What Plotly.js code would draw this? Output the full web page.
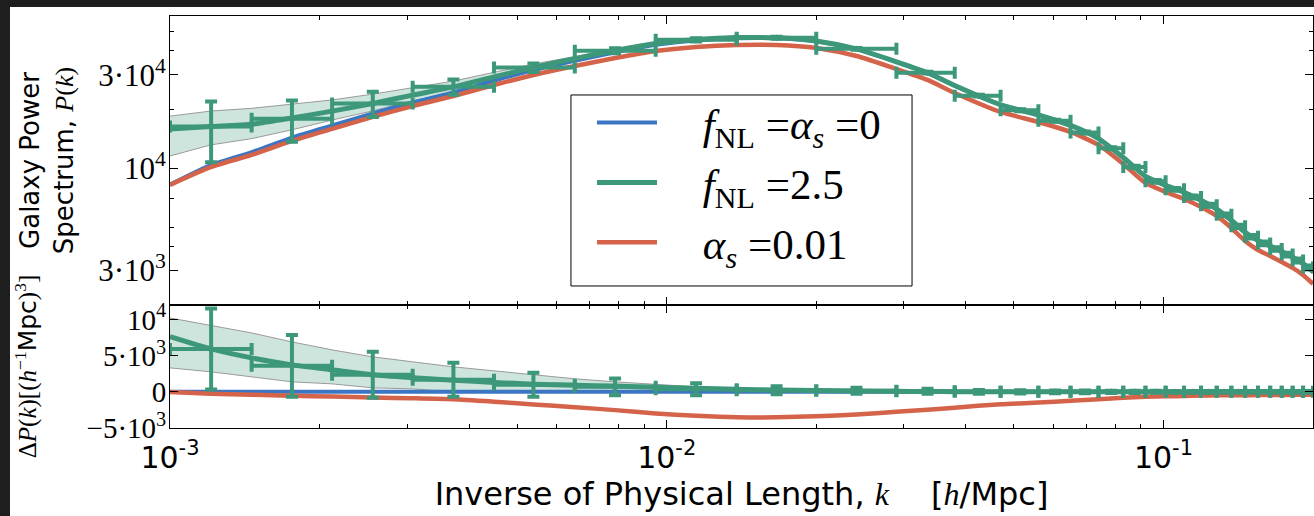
<!DOCTYPE html>
<html><head><meta charset="utf-8">
<script src="https://cdn.plot.ly/plotly-3.0.1.min.js"></script>
<style>
html,body{margin:0;padding:0;background:#1e1e1e;width:1314px;height:516px;overflow:hidden;}
#chart{position:absolute;left:10px;top:7px;width:1304px;height:509px;background:#fff;}
</style></head><body><div id="chart"></div>
<script>
// ---- data ----
const kGrid = [0.001, 0.00121, 0.00146, 0.00176, 0.00212, 0.00256, 0.00308, 0.00372, 0.00449, 0.00539,
  0.00653, 0.00787, 0.0095, 0.01146, 0.01383, 0.01664, 0.0200, 0.0241, 0.0290, 0.0335,
  0.038, 0.047, 0.056, 0.065, 0.074, 0.083, 0.092, 0.101, 0.110, 0.119,
  0.128, 0.137, 0.146, 0.155, 0.164, 0.173, 0.182, 0.191, 0.200];

const pBaseline = [8250, 10410, 12100, 14340, 16540, 19090, 21700, 24440, 28020, 31720,
  35440, 39140, 42740, 44970, 46170, 46190, 44570, 40620, 34940, 30740,
  26450, 21110, 18720, 16560, 14190, 11340, 9100, 8185, 7540, 6860,
  6185, 5420, 4710, 4270, 4000, 3750, 3510, 3260, 2960];

const pFnl = [15880, 16340, 16790, 18070, 19580, 21440, 23650, 26040, 29320, 32770,
  36340, 39930, 43360, 45450, 46520, 46440, 44740, 40730, 35010, 30780,
  26470, 21110, 18720, 16560, 14190, 11340, 9100, 8185, 7540, 6860,
  6185, 5420, 4710, 4270, 4000, 3750, 3510, 3260, 2960];

const pAlpha = [8218, 10153, 11695, 13790, 15880, 18290, 20810, 23410, 26650, 29980,
  33320, 36610, 39750, 41670, 42670, 42670, 41190, 37480, 32170, 28270,
  24260, 19400, 17240, 15330, 13160, 10520, 8410, 7565, 6967, 6341,
  5705, 4953, 4251, 3824, 3563, 3320, 3094, 2849, 2563];

const dBaseline = [0,0,0,0,0,0,0,0,0,0, 0,0,0,0,0,0,0,0,0,0, 0,0,0,0,0,0,0,0,0,0, 0,0,0,0,0,0,0,0,0];

const dFnl = [7630, 5930, 4690, 3730, 3040, 2350, 1950, 1600, 1300, 1050,
  900, 790, 620, 480, 350, 250, 170, 110, 70, 40,
  20, 0, 0, 0, 0, 0, 0, 0, 0, 0,
  0, 0, 0, 0, 0, 0, 0, 0, 0];

const dAlpha = [-30, -260, -410, -550, -660, -800, -890, -1030, -1370, -1740,
  -2120, -2530, -2990, -3300, -3500, -3520, -3380, -3140, -2770, -2470,
  -2190, -1710, -1480, -1230, -1030, -820, -690, -620, -575, -520,
  -480, -470, -460, -450, -440, -430, -420, -410, -400];

// uncertainty band (first 21 grid points)
const kBand = [0.001, 0.00121, 0.00146, 0.00176, 0.00212, 0.00256, 0.00308, 0.00372, 0.00449, 0.00539,
  0.00653, 0.00787, 0.0095, 0.01146, 0.01383, 0.01664, 0.0200, 0.0241, 0.0290, 0.0335, 0.038];
const bandUpP = [18460, 19610, 20240, 21240, 22340, 23920, 25840, 27890, 30920, 34070,
  37240, 40520, 43740, 45660, 46670, 46570, 44850, 40810, 35060, 30800, 26450];
const bandLoP = [11560, 13170, 14170, 15720, 17640, 19640, 22110, 24440, 28020, 31720,
  35440, 39140, 42740, 44970, 46170, 46190, 44570, 40620, 34940, 30740, 26450];
const bandUpD = [10210, 9200, 8140, 6900, 5800, 4830, 4140, 3450, 2900, 2350,
  1800, 1380, 1000, 690, 500, 380, 280, 190, 120, 60, 0];
const bandLoD = [3310, 2760, 2070, 1380, 1100, 550, 410, 0, 0, 0,
  0, 0, 0, 0, 0, 0, 0, 0, 0, 0, 0];

// binned fNL = 2.5 measurements
const kPts = [0.00121, 0.00176, 0.00256, 0.00372, 0.00539, 0.00787, 0.01146, 0.01664, 0.0241, 0.0335,
  0.0425, 0.0515, 0.0605, 0.0695, 0.0785, 0.0875, 0.0965, 0.1055, 0.1145, 0.1235,
  0.1325, 0.1415, 0.1505, 0.1595, 0.1685, 0.1775, 0.1865, 0.1955];
const binLo = [0.001, 0.00146, 0.00212, 0.00308, 0.00449, 0.00653, 0.0095, 0.01383, 0.0200, 0.0290,
  0.038, 0.047, 0.056, 0.065, 0.074, 0.083, 0.092, 0.101, 0.110, 0.119,
  0.128, 0.137, 0.146, 0.155, 0.164, 0.173, 0.182, 0.191];
const binHi = [0.00146, 0.00212, 0.00308, 0.00449, 0.00653, 0.0095, 0.01383, 0.0200, 0.0290, 0.038,
  0.047, 0.056, 0.065, 0.074, 0.083, 0.092, 0.101, 0.110, 0.119, 0.128,
  0.137, 0.146, 0.155, 0.164, 0.173, 0.182, 0.191, 0.200];
const pPts = [16340, 17930, 21440, 26100, 32690, 39830, 45320, 46400, 40760, 30810,
  23500, 19800, 17500, 15220, 12660, 10150, 8580, 7800, 7130, 6470,
  5780, 5050, 4470, 4130, 3870, 3620, 3380, 3110];
const dPts = [5930, 3590, 2350, 1660, 970, 690, 350, 210, 140, 70,
  0, 0, 0, 0, 0, 0, 0, 0, 0, 0,
  0, 0, 0, 0, 0, 0, 0, 0];
const errPts = [5600, 4280, 3180, 2350, 1660, 1170, 830, 550, 420, 350,
  250, 220, 200, 180, 160, 150, 140, 130, 120, 110,
  100, 100, 90, 90, 80, 80, 80, 70];

// tick labels
const xTickVals = [0.001, 0.01, 0.1];
const xTickText = ['10<sup>-3</sup>', '10<sup>-2</sup>', '10<sup>-1</sup>'];
const xMinorVals = [0.002,0.003,0.004,0.005,0.006,0.007,0.008,0.009,
  0.02,0.03,0.04,0.05,0.06,0.07,0.08,0.09];
const yTopVals = [3000, 10000, 30000];
const yTopText = ['3·10<sup>3</sup>', '10<sup>4</sup>', '3·10<sup>4</sup>'];
const yTopMinor = [4000, 5000, 7000, 20000, 40000, 50000];
const yBotVals = [-5000, 0, 5000, 10000];
const yBotText = ['\u22125·10<sup>3</sup>', '0', '5·10<sup>3</sup>', '10<sup>4</sup>'];

const GAP = '\u00a0\u00a0\u00a0\u2009';
const labels = [GAP + '<i>f</i><sub>NL</sub> =<i>α<sub>s</sub></i> =0',
                GAP + '<i>f</i><sub>NL</sub> =2.5',
                GAP + '<i>α<sub>s</sub></i> =0.01'];

// ---- styling ----
const SERIF = 'Liberation Serif, Times New Roman, serif';
const SANS = 'DejaVu Sans, sans-serif';
const BLUE = '#3a76c4', GREEN = '#3d977a', RED = '#d4634a';
const BANDFILL = 'rgba(61,151,122,0.25)', BANDLINE = '#9a9a9a';

const xErrPlus = kPts.map((k, i) => binHi[i] - k);
const xErrMinus = kPts.map((k, i) => k - binLo[i]);

function panel(xa, ya, p) {
  const top = ya === 'y';
  return [
    {x: kBand, y: p.bandLo, xaxis: xa, yaxis: ya, mode: 'lines', line: {color: BANDLINE, width: 1},
     showlegend: false, hoverinfo: 'skip'},
    {x: kBand, y: p.bandUp, xaxis: xa, yaxis: ya, mode: 'lines', line: {color: BANDLINE, width: 1},
     fill: 'tonexty', fillcolor: BANDFILL, showlegend: false, hoverinfo: 'skip'},
    {x: kGrid, y: p.base, xaxis: xa, yaxis: ya, mode: 'lines', name: labels[0],
     line: {color: BLUE, width: 4, shape: 'spline', smoothing: 0.6},
     showlegend: top, legendrank: 1, legendgroup: 'a'},
    {x: kGrid, y: p.alpha, xaxis: xa, yaxis: ya, mode: 'lines', name: labels[2],
     line: {color: RED, width: 4.5, shape: 'spline', smoothing: 0.6},
     showlegend: top, legendrank: 3, legendgroup: 'c'},
    {x: kGrid, y: p.fnl, xaxis: xa, yaxis: ya, mode: 'lines', name: labels[1],
     line: {color: GREEN, width: 5, shape: 'spline', smoothing: 0.6},
     showlegend: top, legendrank: 2, legendgroup: 'b'},
    {x: kPts, y: p.pts, xaxis: xa, yaxis: ya, mode: 'markers',
     marker: {size: 0, color: GREEN},
     error_y: {type: 'data', array: errPts, color: GREEN, thickness: 4, width: 6},
     error_x: {type: 'data', symmetric: false, array: xErrPlus, arrayminus: xErrMinus,
               color: GREEN, thickness: 4, width: 6},
     showlegend: false, hoverinfo: 'skip'}
  ];
}

const data = [].concat(
  panel('x2', 'y', {bandLo: bandLoP, bandUp: bandUpP, base: pBaseline, alpha: pAlpha, fnl: pFnl, pts: pPts}),
  panel('x', 'y2', {bandLo: bandLoD, bandUp: bandUpD, base: dBaseline, alpha: dAlpha, fnl: dFnl, pts: dPts})
);

const axCommon = {
  showline: true, linecolor: 'black', linewidth: 1, mirror: 'allticks',
  ticks: 'inside', ticklen: 8, tickwidth: 1, tickcolor: 'black',
  showgrid: false, zeroline: false, fixedrange: true
};
const xMinor = {tickvals: xMinorVals, ticks: 'inside', ticklen: 4, tickwidth: 1, tickcolor: 'black', showgrid: false};

const layout = {
  width: 1304, height: 509,
  margin: {l: 160, r: 1, t: 9, b: 88},
  paper_bgcolor: 'white', plot_bgcolor: 'white',
  showlegend: true,
  legend: {x: 0.3692, y: 0.825, xanchor: 'left', yanchor: 'top',
    borderwidth: 0, bgcolor: 'rgba(0,0,0,0)',
    font: {family: SERIF, size: 43, color: 'black'},
    itemwidth: 60, tracegroupgap: 1, traceorder: 'grouped'},
  shapes: [
    {type: 'rect', xref: 'paper', yref: 'paper', x0: 0.3508, x1: 0.6492, y0: 0.3447, y1: 0.8083,
     line: {color: 'black', width: 1}, fillcolor: 'white', layer: 'above'}
  ],
  xaxis: Object.assign({}, axCommon, {
    type: 'log', range: [-3, -0.69897], anchor: 'y2', domain: [0, 1],
    tickmode: 'array', tickvals: xTickVals, ticktext: xTickText,
    tickfont: {family: SANS, size: 30, color: 'black'}, ticklabelstandoff: 3,
    minor: xMinor,
    title: {text: 'Inverse of Physical Length, <span style="font-family:Liberation Serif"><i>k</i></span>\u2003 [<span style="font-family:Liberation Serif"><i>h</i></span>/Mpc]',
            font: {family: SANS, size: 32, color: 'black'}, standoff: 3}
  }),
  xaxis2: Object.assign({}, axCommon, {
    type: 'log', range: [-3, -0.69897], anchor: 'y', matches: 'x',
    tickmode: 'array', tickvals: xTickVals, showticklabels: false,
    minor: xMinor
  }),
  yaxis: Object.assign({}, axCommon, {
    type: 'log', domain: [0.2985, 1], anchor: 'x2', range: [3.30103, 4.77815],
    tickmode: 'array', tickvals: yTopVals, ticktext: yTopText,
    tickfont: {family: SERIF, size: 31, color: 'black'}, ticklabelstandoff: -3,
    minor: {tickvals: yTopMinor, ticks: 'inside', ticklen: 4, tickwidth: 1, tickcolor: 'black', showgrid: false},
    title: {text: 'Galaxy Power<br>Spectrum, <span style="font-family:Liberation Serif"><i>P</i>(<i>k</i>)</span>',
            font: {family: SANS, size: 26, color: 'black'}, standoff: 17}
  }),
  yaxis2: Object.assign({}, axCommon, {
    domain: [0, 0.2985], anchor: 'x', range: [-5000, 12000],
    tickmode: 'array', tickvals: yBotVals, ticktext: yBotText,
    tickfont: {family: SERIF, size: 29, color: 'black'}, ticklabelstandoff: -3,
    title: {text: '<span style="font-family:Liberation Serif">Δ<i>P</i>(<i>k</i>)[(<i>h</i><sup>\u22121</sup></span>Mpc<span style="font-family:Liberation Serif">)<sup>3</sup>]</span>',
            font: {family: SANS, size: 25, color: 'black'}, standoff: 42}
  })
};

Plotly.newPlot('chart', data, layout, {staticPlot: true, displayModeBar: false});
</script></body></html>
